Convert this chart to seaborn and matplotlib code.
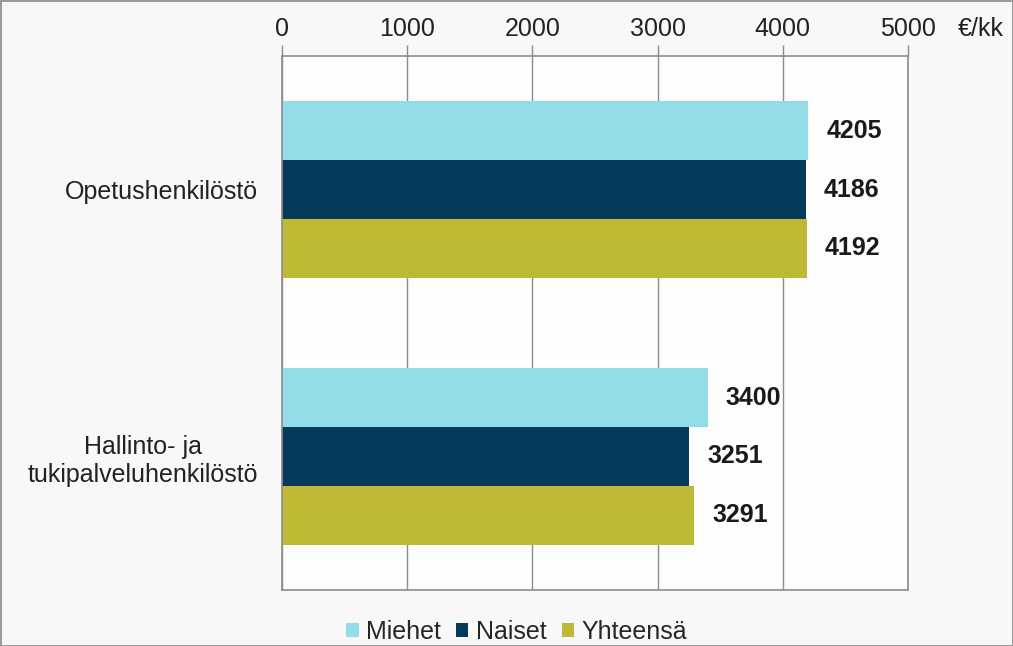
import numpy as np
import pandas as pd
import matplotlib as mpl
mpl.use("Agg")
import matplotlib.pyplot as plt
import seaborn as sns

# data
categories = ["Opetushenkilöstö", "Hallinto- ja\ntukipalveluhenkilöstö"]
series = ["Miehet", "Naiset", "Yhteensä"]
miehet = [4205, 3400]
naiset = [4186, 3251]
yhteensa = [4192, 3291]
xticks = [0, 1000, 2000, 3000, 4000, 5000]
unit_label = "€/kk"

colors = ["#91dce6", "#053a5a", "#bdb935"]

df = pd.DataFrame({
    "ryhma": categories * 3,
    "sarja": np.repeat(series, len(categories)),
    "palkka": miehet + naiset + yhteensa,
})

sns.set_style("white")
plt.rcParams['font.family'] = ['Liberation Sans', 'DejaVu Sans']
grid_col = "#8c8c8c"
txt_col = "#222222"

fig = plt.figure(figsize=(10.13, 6.46), dpi=100, facecolor="#f8f8f8",
                 edgecolor="#9a9a9a", linewidth=2)
ax = fig.add_axes([0.2784, 0.0867, 0.6179, 0.8266])
ax.set_facecolor("#fdfdfd")

sns.barplot(data=df, y="ryhma", x="palkka", hue="sarja", orient="h",
            palette=colors, width=0.66, linewidth=0, saturation=1,
            errorbar=None, ax=ax, legend=True)

for cont in ax.containers:
    ax.bar_label(cont, fmt="%d", padding=13, fontsize=18, fontweight="bold",
                 color="#1a1a1a")

ax.set_xlim(0, 5000)
ax.set_ylim(1.5, -0.5)
ax.set_xticks(xticks)
ax.xaxis.tick_top()
ax.tick_params(axis="x", which="major", length=8, width=1, color=grid_col,
               pad=3, labelsize=18, labelcolor=txt_col)
ax.grid(axis="x", color=grid_col, linewidth=1)
ax.set_axisbelow(True)

ax.set_yticks([-0.5, 0.5, 1.5], minor=True)
ax.tick_params(axis="y", which="major", length=0, pad=17, labelsize=18,
               labelcolor=txt_col)
ax.tick_params(axis="y", which="minor", length=8, width=1, color=grid_col)
for t in ax.get_yticklabels():
    t.set_multialignment("center")

ax.set_xlabel("")
ax.set_ylabel("")
for side in ["top", "bottom", "left", "right"]:
    ax.spines[side].set_visible(True)
    ax.spines[side].set_color(grid_col)
    ax.spines[side].set_linewidth(1.2)

fig.text(0.968, 0.955, unit_label, ha="center", va="center", fontsize=18,
         color=txt_col)

handles, labels = ax.get_legend_handles_labels()
ax.get_legend().remove()
fig.legend(handles, labels, loc="center", bbox_to_anchor=(0.51, 0.022),
           ncol=3, frameon=False, fontsize=18, handlelength=0.5,
           handleheight=0.5, handletextpad=0.3, columnspacing=0.6,
           borderpad=0)

fig.savefig("out.png", dpi=100, facecolor=fig.get_facecolor(),
            edgecolor=fig.get_edgecolor())
